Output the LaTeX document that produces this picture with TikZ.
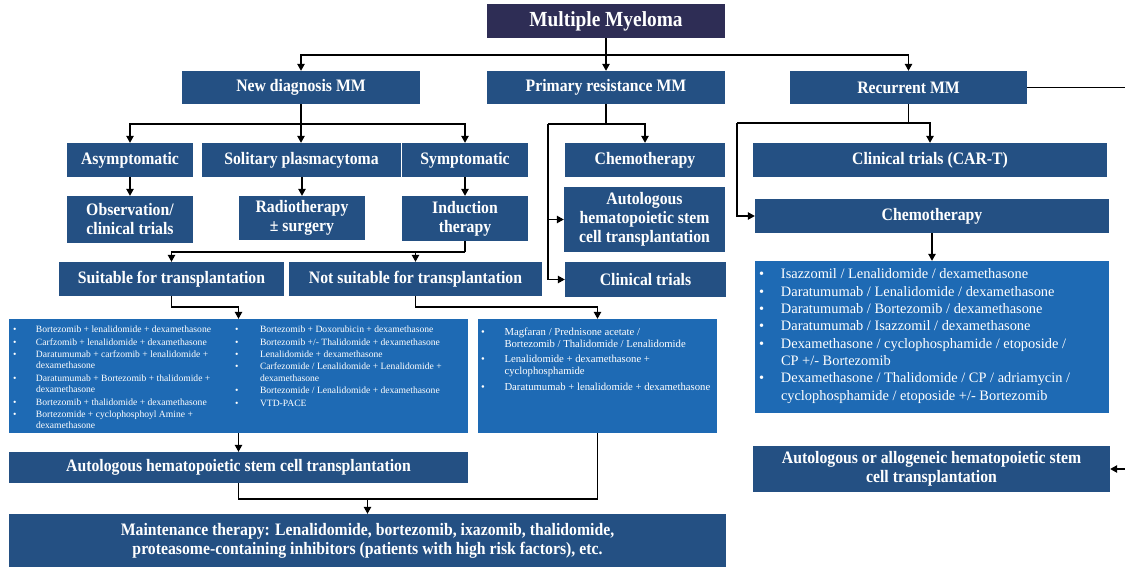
\documentclass[tikz,border=0pt]{standalone}
\usepackage{fontspec}
\setmainfont{Liberation Serif}
\newfontfamily\boxfont{Liberation Serif}[FakeStretch=0.9]
\usepackage{tikz}
\usetikzlibrary{arrows.meta}

\definecolor{navy}{HTML}{2E2D55}
\definecolor{boxblue}{HTML}{245083}
\definecolor{listblue}{HTML}{1E6AB4}

\newcommand{\dbul}[1]{\makebox[#1][l]{\textbullet}}
\newcommand{\dgap}[1]{\hspace*{#1}}

\begin{document}
\begin{tikzpicture}[x=1pt, y=-1pt,
        hdrbox/.style={fill=navy, text=white, inner sep=0pt, font=\boxfont\bfseries\fontsize{21.5}{24}\selectfont},
        mmbox/.style={fill=boxblue, text=white, inner sep=0pt, align=center, font=\boxfont\bfseries\fontsize{17.5}{19}\selectfont},
        drugbox/.style={fill=listblue, inner sep=0pt},
        druglist/.style={text=white, inner sep=0pt, align=left, anchor=north west},
        link/.style={line width=1.2pt},
        arr/.style={link, -{Triangle[length=7pt, width=7.5pt]}}]
    \useasboundingbox (0,0) rectangle (1125,568);

    % top level
    \node[hdrbox, minimum width=238pt, minimum height=34pt] (title) at (606,21) {Multiple Myeloma};
    \node[mmbox, minimum width=238pt, minimum height=33pt] (newdx) at (301,87.5) {New diagnosis MM};
    \node[mmbox, minimum width=238pt, minimum height=33pt] (prim) at (606,87.5) {Primary resistance MM};
    \node[mmbox, minimum width=237pt, minimum height=33pt] (recur) at (908.5,87.5) {Recurrent MM};

    % new diagnosis branch
    \node[mmbox, minimum width=126pt, minimum height=34pt] (asym) at (130,160) {Asymptomatic};
    \node[mmbox, minimum width=199pt, minimum height=34pt] (solit) at (301.5,160) {Solitary plasmacytoma};
    \node[mmbox, minimum width=126pt, minimum height=34pt] (symp) at (465,160) {Symptomatic};
    \node[mmbox, minimum width=126pt, minimum height=47pt] (obs) at (130,219.5) {Observation/\\clinical trials};
    \node[mmbox, minimum width=126pt, minimum height=44pt] (radio) at (302,218) {Radiotherapy\\± surgery};
    \node[mmbox, minimum width=126pt, minimum height=45pt] (induc) at (465,218.5) {Induction\\therapy};
    \node[mmbox, minimum width=225pt, minimum height=34pt] (suit) at (171.5,279) {Suitable for transplantation};
    \node[mmbox, minimum width=253pt, minimum height=34pt] (nsuit) at (415.5,279) {Not suitable for transplantation};

    \node[drugbox, minimum width=459pt, minimum height=114pt] (lnew) at (238.5,376) {};
    \node[druglist, font=\fontsize{9.6}{11.4}\selectfont] (lnewa) at ([xshift=4pt, yshift=-7pt]lnew.north west)
        {\dbul{23pt}Bortezomib + lenalidomide + dexamethasone\\[1pt]
         \dbul{23pt}Carfzomib + lenalidomide + dexamethasone\\[1pt]
         \dbul{23pt}Daratumumab + carfzomib + lenalidomide +\\
         \dgap{23pt}dexamethasone\\[1pt]
         \dbul{23pt}Daratumumab + Bortezomib + thalidomide +\\
         \dgap{23pt}dexamethasone\\[1pt]
         \dbul{23pt}Bortezomib + thalidomide + dexamethasone\\[1pt]
         \dbul{23pt}Bortezomide + cyclophosphoyl Amine +\\
         \dgap{23pt}dexamethasone};
    \node[druglist, font=\fontsize{9.6}{11.4}\selectfont] (lnewb) at ([xshift=226pt, yshift=-7pt]lnew.north west)
        {\dbul{25pt}Bortezomib + Doxorubicin + dexamethasone\\[1pt]
         \dbul{25pt}Bortezomib +/- Thalidomide + dexamethasone\\[1pt]
         \dbul{25pt}Lenalidomide + dexamethasone\\[1pt]
         \dbul{25pt}Carfezomide / Lenalidomide + Lenalidomide +\\
         \dgap{25pt}dexamethasone\\[1pt]
         \dbul{25pt}Bortezomide / Lenalidomide + dexamethasone\\[1pt]
         \dbul{25pt}VTD-PACE};

    \node[drugbox, minimum width=239pt, minimum height=114pt] (mlist) at (597.5,376) {};
    \node[druglist, font=\fontsize{10.7}{11.7}\selectfont] (mlista) at ([xshift=3pt, yshift=-9pt]mlist.north west)
        {\dbul{23.5pt}Magfaran / Prednisone acetate /\\
         \dgap{23.5pt}Bortezomib / Thalidomide / Lenalidomide\\[4pt]
         \dbul{23.5pt}Lenalidomide + dexamethasone +\\
         \dgap{23.5pt}cyclophosphamide\\[4pt]
         \dbul{23.5pt}Daratumumab + lenalidomide + dexamethasone};

    \node[mmbox, minimum width=459pt, minimum height=31pt] (ahsct) at (238.5,467.5) {Autologous hematopoietic stem cell transplantation};
    \node[mmbox, minimum width=717pt, minimum height=53pt] (maint) at (367.5,540.5)
        {Maintenance therapy: Lenalidomide, bortezomib, ixazomib, thalidomide,\\proteasome-containing inhibitors (patients with high risk factors), etc.};

    % primary resistance branch
    \node[mmbox, minimum width=160pt, minimum height=34pt] (pchemo) at (645,160) {Chemotherapy};
    \node[mmbox, minimum width=161pt, minimum height=65pt] (pauto) at (644.5,219.5) {Autologous\\hematopoietic stem\\cell transplantation};
    \node[mmbox, minimum width=161pt, minimum height=35pt] (pclin) at (645.5,279.5) {Clinical trials};

    % recurrent branch
    \node[mmbox, minimum width=354pt, minimum height=34pt] (cart) at (930,160) {Clinical trials (CAR-T)};
    \node[mmbox, minimum width=354pt, minimum height=34pt] (rchemo) at (932,216) {Chemotherapy};
    \node[drugbox, minimum width=354pt, minimum height=152pt] (rlist) at (932,337) {};
    \node[druglist, font=\fontsize{14.4}{17.3}\selectfont] (rlista) at ([xshift=4pt, yshift=-8pt]rlist.north west)
        {\dbul{22pt}Isazzomil / Lenalidomide / dexamethasone\\
         \dbul{22pt}Daratumumab / Lenalidomide / dexamethasone\\
         \dbul{22pt}Daratumumab / Bortezomib / dexamethasone\\
         \dbul{22pt}Daratumumab / Isazzomil / dexamethasone\\
         \dbul{22pt}Dexamethasone / cyclophosphamide / etoposide /\\
         \dgap{22pt}CP +/- Bortezomib\\
         \dbul{22pt}Dexamethasone / Thalidomide / CP / adriamycin /\\
         \dgap{22pt}cyclophosphamide / etoposide +/- Bortezomib};
    \node[mmbox, minimum width=357pt, minimum height=46pt] (allo) at (931.5,469) {Autologous or allogeneic hematopoietic stem\\cell transplantation};

    % bus points
    \coordinate (tbus) at (606,55);
    \coordinate (nbus) at (301,124);
    \coordinate (ibus) at (465,252);
    \coordinate (sbus) at (171.5,307);
    \coordinate (nsbus) at (415.5,307);
    \coordinate (mbus) at (367.5,499);
    \coordinate (pbus) at (606,124);
    \coordinate (pleft) at (548,124);
    \coordinate (rbus) at (908.5,123);
    \coordinate (rleft) at (737,123);
    \coordinate (redge) at (1125,87.5);
    \coordinate (aedge) at (1125,469);

    % connectors
    \draw[link] (title.south) -- (tbus);
    \draw[arr] (tbus) -| (newdx.north);
    \draw[arr] (tbus) -- (prim.north);
    \draw[arr] (tbus) -| (recur.north);

    \draw[link] (newdx.south) -- (nbus);
    \draw[arr] (nbus) -| (asym.north);
    \draw[arr] (nbus) -- (nbus |- solit.north);
    \draw[arr] (nbus) -| (symp.north);
    \draw[arr] (asym) -- (obs);
    \draw[arr] (solit.south -| radio.north) -- (radio.north);
    \draw[arr] (symp) -- (induc);

    \draw[link] (induc.south) -- (ibus);
    \draw[arr] (ibus) -| (suit.north);
    \draw[arr] (ibus -| nsuit.north) -- (nsuit.north);
    \draw[arr] (suit.south) -- (sbus) -| (lnew.north);
    \draw[arr] (nsuit.south) -- (nsbus) -| (mlist.north);
    \draw[arr] (lnew) -- (ahsct);
    \draw[link] (ahsct.south) |- (mbus) -| (mlist.south);
    \draw[arr] (mbus) -- (maint.north);

    \draw[link] (prim.south) -- (pbus) -- (pleft);
    \draw[arr] (pbus) -| (pchemo.north);
    \draw[arr] (pleft) |- (pauto.west);
    \draw[arr] (pleft) |- (pclin.west);

    \draw[link] (recur.south) -- (rbus) -- (rleft);
    \draw[arr] (rbus) -| (cart.north);
    \draw[arr] (rleft) |- (rchemo.west);
    \draw[arr] (rchemo) -- (rlist);
    \draw[link] (recur.east) -- (redge);
    \draw[arr] (aedge) -- (allo.east);
\end{tikzpicture}
\end{document}
